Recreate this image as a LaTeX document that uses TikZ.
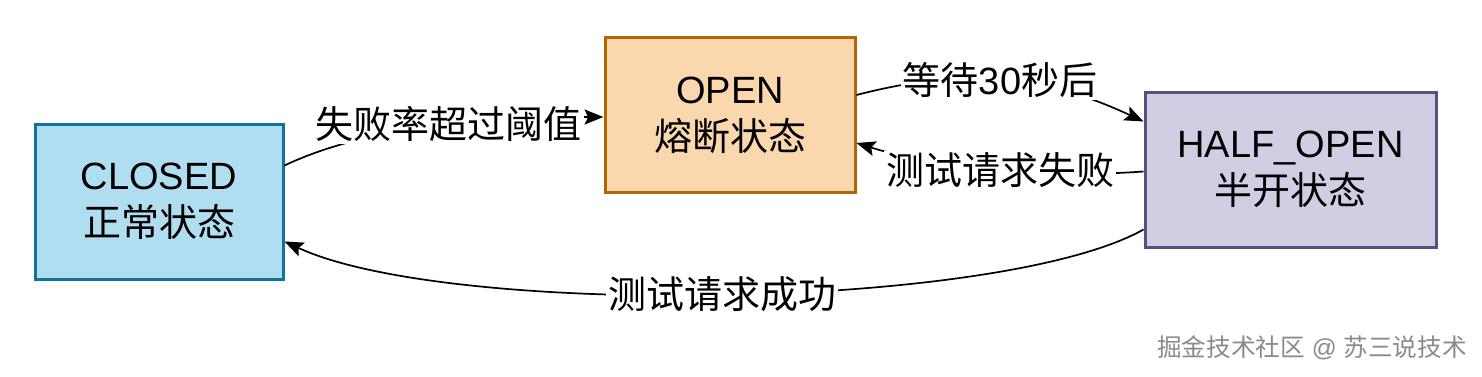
\documentclass[tikz,border=0pt]{standalone}
\usepackage{fontspec}
\setmainfont{Liberation Sans}
\newfontfamily\cjk{Noto Sans CJK SC}
\usetikzlibrary{arrows.meta}
\definecolor{closedfill}{HTML}{B1DDF0}
\definecolor{closeddraw}{HTML}{10739E}
\definecolor{openfill}{HTML}{FAD7AC}
\definecolor{opendraw}{HTML}{B46504}
\definecolor{halffill}{HTML}{D0CEE2}
\definecolor{halfdraw}{HTML}{56517E}
\definecolor{markgray}{HTML}{8A8A8A}

\begin{document}
\begin{tikzpicture}[
  x=0.5pt, y=-0.5pt,
  state/.style={draw, line width=1.5pt, align=center, minimum height=77.5pt,
    font=\fontsize{19pt}{23.5pt}\selectfont},
  arrow/.style={-{Stealth[length=9.5pt,width=7.5pt,inset=1.8pt]}, line width=0.85pt},
  lbl/.style={fill=white, inner sep=1pt, font=\fontsize{19pt}{22.5pt}\selectfont}
]
\useasboundingbox (0,0) rectangle (1482,376);

\node[state, fill=closedfill, draw=closeddraw, minimum width=124pt] (closed) at (159,201.5) {CLOSED\\\cjk 正常状态};
\node[state, fill=openfill, draw=opendraw, minimum width=125pt] (open) at (730,115) {OPEN\\\cjk 熔断状态};
\node[state, fill=halffill, draw=halfdraw, minimum width=145.5pt] (halfopen) at (1290.5,169.5) {HALF\_OPEN\\\cjk 半开状态};

\draw[arrow] ([yshift=18pt]closed.east) .. controls (380,120) and (520,117) .. ([yshift=-1pt]open.west)
  node[lbl, pos=0.5] (lfail) {\cjk 失败率超过阈值};
\draw[arrow] ([yshift=10pt]open.east) .. controls (960,68) and (1040,73) .. ([yshift=24pt]halfopen.west)
  node[lbl, pos=0.5] (lwait) {{\cjk 等待}30{\cjk 秒后}};
\draw[arrow] ([yshift=-1pt]halfopen.west) .. controls (1050,178) and (950,172) .. ([yshift=-14pt]open.east)
  node[lbl, pos=0.5] (lretry) {\cjk 测试请求失败};
\draw[arrow] ([yshift=-30pt]halfopen.west) .. controls (1000,310) and (450,318) .. ([yshift=-20pt]closed.east)
  node[lbl, pos=0.5] (lok) {\cjk 测试请求成功};

\node[text=markgray, font=\fontsize{12.3pt}{14pt}\selectfont] (mark) at (1312,348) {{\cjk 掘金技术社区} @ {\cjk 苏三说技术}};
\end{tikzpicture}
\end{document}
